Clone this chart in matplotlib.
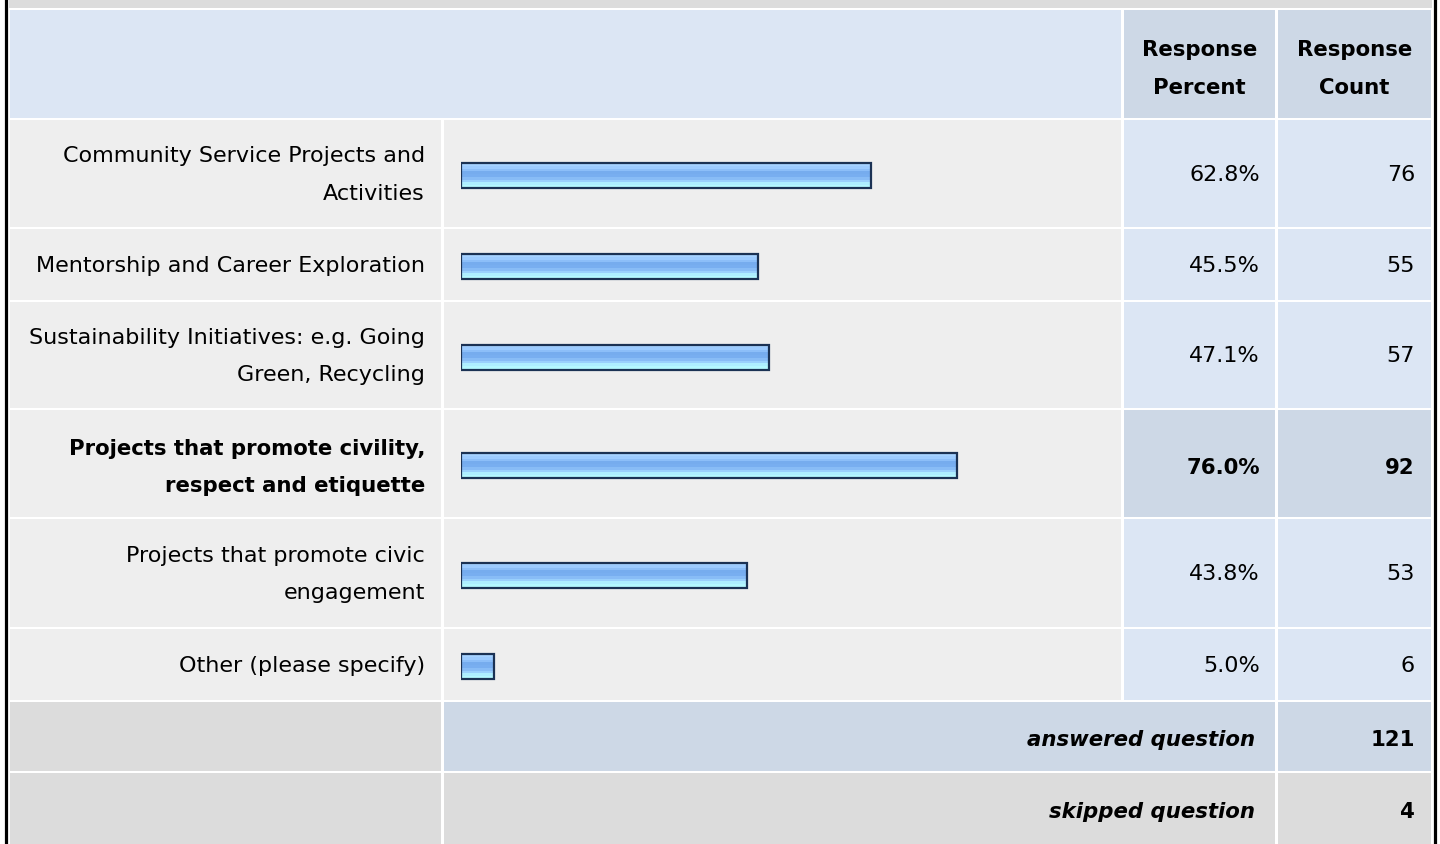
import numpy as np
import matplotlib
matplotlib.use("Agg")
import matplotlib.pyplot as plt
from matplotlib.patches import Rectangle
from matplotlib.colors import LinearSegmentedColormap

categories = ["Community Service Projects and\nActivities",
              "Mentorship and Career Exploration",
              "Sustainability Initiatives: e.g. Going\nGreen, Recycling",
              "Projects that promote civility,\nrespect and etiquette",
              "Projects that promote civic\nengagement",
              "Other (please specify)"]
percents = [62.8, 45.5, 47.1, 76.0, 43.8, 5.0]
counts = [76, 55, 57, 92, 53, 6]
answered = 121
skipped = 4

plt.rcParams['font.family'] = ['DejaVu Sans']
FS = 16
FSB = 15.3
LS = 2.08

W, H = 1440, 844
fig = plt.figure(figsize=(W / 100, H / 100), dpi=100)
fig.patch.set_facecolor("white")
ax = fig.add_axes([0, 0, 1, 1])
ax.set_xlim(0, W)
ax.set_ylim(H, 0)
ax.axis("off")

# layout (pixels)
cols = [(10, 441), (444, 1121), (1124, 1275), (1278, 1431)]
rows = [(120, 227), (229, 300), (302, 408), (410, 517), (519, 627), (629, 700)]
header = (10, 118)
ans_row = (702, 771)
skip_row = (773, 850)

c_gray = "#dcdcdc"
c_light = "#eeeeee"
c_blue = "#dce6f4"
c_blue2 = "#cdd8e6"

def cell(x0, x1, y0, y1, color):
    ax.add_patch(Rectangle((x0, y0), x1 - x0, y1 - y0, facecolor=color,
                           edgecolor="none", zorder=1))

# frame
cell(9, 1432, 0, 8, c_gray)
ax.plot([5.5, 5.5], [0, H], color="black", lw=2.3, zorder=5)
ax.plot([1434.5, 1434.5], [0, H], color="black", lw=2.3, zorder=5)

# header
cell(cols[0][0], cols[1][1], header[0], header[1], c_blue)
cell(cols[2][0], cols[2][1], header[0], header[1], c_blue2)
cell(cols[3][0], cols[3][1], header[0], header[1], c_blue2)
hy = (header[0] + header[1]) / 2 + 5
ax.text((cols[2][0] + cols[2][1]) / 2, hy, "Response\nPercent", ha="center",
        va="center", fontsize=FSB, fontweight="bold", linespacing=LS, zorder=3)
ax.text((cols[3][0] + cols[3][1]) / 2, hy, "Response\nCount", ha="center",
        va="center", fontsize=FSB, fontweight="bold", linespacing=LS, zorder=3)

best = int(np.argmax(percents))
for i, (y0, y1) in enumerate(rows):
    hi = i == best
    cell(cols[0][0], cols[0][1], y0, y1, c_light)
    cell(cols[1][0], cols[1][1], y0, y1, c_light)
    cell(cols[2][0], cols[2][1], y0, y1, c_blue2 if hi else c_blue)
    cell(cols[3][0], cols[3][1], y0, y1, c_blue2 if hi else c_blue)
    yc = (y0 + y1) / 2 + (4 if hi else 1.5)
    fw = "bold" if hi else "normal"
    fs = FSB if hi else FS
    ax.text(425, yc, categories[i], ha="right", va="center", fontsize=fs,
            fontweight=fw, linespacing=LS, zorder=3)
    ax.text(1260, yc, f"{percents[i]:.1f}%", ha="right", va="center",
            fontsize=fs, fontweight=fw, zorder=3)
    ax.text(1415, yc, str(counts[i]), ha="right", va="center",
            fontsize=fs, fontweight=fw, zorder=3)

# footer rows
cell(cols[0][0], cols[0][1], ans_row[0], ans_row[1], c_gray)
cell(cols[1][0], cols[2][1], ans_row[0], ans_row[1], c_blue2)
cell(cols[3][0], cols[3][1], ans_row[0], ans_row[1], c_blue2)
cell(cols[0][0], cols[0][1], skip_row[0], skip_row[1], c_gray)
cell(cols[1][0], cols[2][1], skip_row[0], skip_row[1], c_gray)
cell(cols[3][0], cols[3][1], skip_row[0], skip_row[1], c_gray)
ya = (ans_row[0] + ans_row[1]) / 2 + 4
ys = (skip_row[0] + 844) / 2 + 4
ax.text(1255, ya, "answered question", ha="right", va="center", fontsize=FSB,
        fontweight="bold", style="italic", zorder=3)
ax.text(1415, ya, str(answered), ha="right", va="center", fontsize=FSB,
        fontweight="bold", zorder=3)
ax.text(1255, ys, "skipped question", ha="right", va="center", fontsize=FSB,
        fontweight="bold", style="italic", zorder=3)
ax.text(1415, ys, str(skipped), ha="right", va="center", fontsize=FSB,
        fontweight="bold", zorder=3)

# bars
bx = fig.add_axes([461 / W, 0, 653 / W, 1])
bx.set_xlim(0, 100)
bx.set_ylim(H, 0)
bx.axis("off")
bx.patch.set_alpha(0)
centers = [(y0 + y1) / 2 + 2 for y0, y1 in rows]
bar_h = 25
grad = LinearSegmentedColormap.from_list(
    "g", ["#a6d2ff", "#9ccbff", "#8cbef8", "#76acee", "#78aef0",
          "#88bcf6", "#9ad0fc", "#aeeeff", "#b4f8ff"], N=9)
bars = bx.barh(centers, percents, height=bar_h, left=0, color="none",
               edgecolor="#1b3254", linewidth=1.6, zorder=4)
g = np.linspace(0, 1, 9).reshape(-1, 1)
for b, yc, p in zip(bars, centers, percents):
    im = bx.imshow(g, cmap=grad, aspect="auto", interpolation="nearest",
                   extent=(0, p, yc + bar_h / 2, yc - bar_h / 2), zorder=3)
    im.set_clip_path(b)
bx.set_xlim(0, 100)
bx.set_ylim(H, 0)

fig.savefig("out.png", dpi=100, facecolor="white")
